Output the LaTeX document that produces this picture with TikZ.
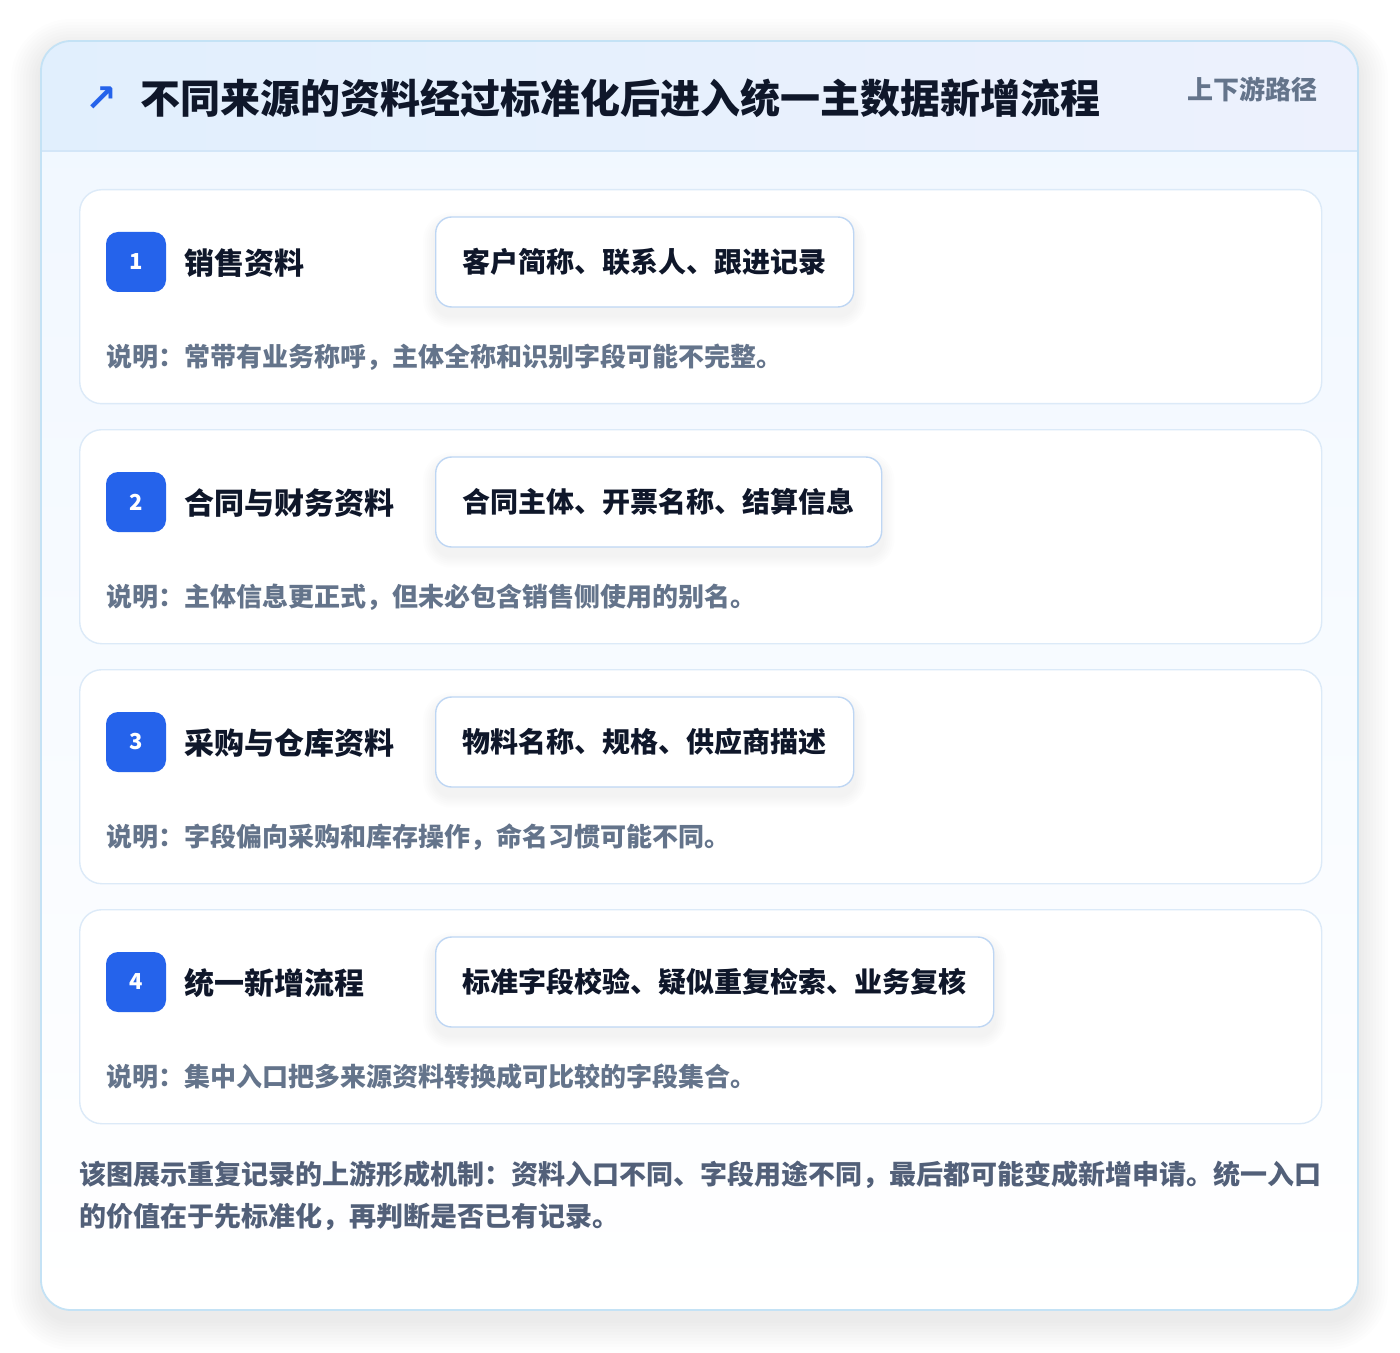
\documentclass[tikz,border=0pt]{standalone}
\usepackage{fontspec}
\setmainfont{Noto Sans CJK SC}
\newfontfamily\symfont{DejaVu Sans}
\usetikzlibrary{calc}
\pgfdeclarelayer{mid}
\pgfdeclarelayer{front}
\pgfsetlayers{main,mid,front}
\definecolor{outline}{HTML}{C4E2F5}
\definecolor{hdleft}{HTML}{E1EFFD}
\definecolor{hdright}{HTML}{EDF1FD}
\definecolor{hdline}{HTML}{D3E6F8}
\definecolor{bodytop}{HTML}{F0F7FF}
\definecolor{cardline}{HTML}{DCEAF8}
\definecolor{fieldline}{HTML}{BED6F3}
\definecolor{badgeblue}{HTML}{2563EB}
\definecolor{ink}{HTML}{0F172A}
\definecolor{slate}{HTML}{64748B}
\definecolor{footgray}{HTML}{526079}
\begin{document}
\begin{tikzpicture}[x=0.5pt,y=-0.5pt,
    card/.style={draw=cardline,fill=white,rounded corners=11pt,line width=0.7pt,minimum width=621pt,minimum height=107pt,anchor=north west,inner sep=0pt},
    badge/.style={fill=badgeblue,rounded corners=6pt,minimum size=30pt,inner sep=0pt,text=white,font=\bfseries\fontsize{11}{11}\selectfont},
    label/.style={anchor=west,inner sep=0pt,text=ink,font=\bfseries\fontsize{15}{15}\selectfont},
    field/.style={draw=fieldline,fill=white,rounded corners=8pt,line width=0.7pt,minimum height=45pt,inner xsep=13.5pt,anchor=west,text=ink,font=\bfseries\fontsize{14}{14}\selectfont},
    note/.style={anchor=west,inner sep=0pt,text=slate,font=\bfseries\fontsize{13}{13}\selectfont}]
    \useasboundingbox[fill=white] (0,0) rectangle (1400,1352);
    % soft shadow of the panel
    \foreach \k in {1,...,10}
        \fill[black,opacity=0.007,rounded corners=15pt+1.5pt*\k] (41-3*\k,49-3*\k) rectangle (1358+3*\k,1320+3*\k);
    % outer panel
    \shade[rounded corners=15pt,top color=bodytop,bottom color=white] (41,41) rectangle (1358,1310);
    \begin{scope}
        \clip[rounded corners=15pt] (41,41) rectangle (1358,1310);
        \shade[left color=hdleft,right color=hdright] (41,41) rectangle (1358,151);
    \end{scope}
    \draw[hdline,line width=0.7pt] (41,151) -- (1358,151);
    \draw[outline,line width=0.9pt,rounded corners=15pt] (41,41) rectangle (1358,1310);
    % header
    \node[anchor=center,text=badgeblue,font=\symfont\bfseries\fontsize{19}{19}\selectfont] (icon) at (101,99) {↗};
    \node[anchor=west,inner sep=0pt,text=ink,font=\bfseries\fontsize{20}{20}\selectfont] (title) at (140,98) {不同来源的资料经过标准化后进入统一主数据新增流程};
    \node[anchor=east,inner sep=0pt,text=slate,font=\bfseries\fontsize{13}{13}\selectfont] (tag) at (1318,89) {上下游路径};
    % source cards
    \foreach \i/\lab/\fld/\txt in {1/销售资料/客户简称、联系人、跟进记录/常带有业务称呼，主体全称和识别字段可能不完整。,
        2/合同与财务资料/合同主体、开票名称、结算信息/主体信息更正式，但未必包含销售侧使用的别名。,
        3/采购与仓库资料/物料名称、规格、供应商描述/字段偏向采购和库存操作，命名习惯可能不同。,
        4/统一新增流程/标准字段校验、疑似重复检索、业务复核/集中入口把多来源资料转换成可比较的字段集合。}{
        \pgfmathsetmacro\top{189+240*(\i-1)}
        \node[card] (card\i) at (79,\top) {};
        \node[badge] (badge\i) at (136,\top+73) {\i};
        \node[label] (label\i) at (184,\top+74) {\lab};
        \begin{pgfonlayer}{front}
            \node[field] (field\i) at (435,\top+73) {\fld};
        \end{pgfonlayer}
        \begin{pgfonlayer}{mid}
            \foreach \k in {1,...,6}
                \fill[black,opacity=0.006,rounded corners=8pt+1pt*\k]
                    ($(field\i.south west)+(-2*\k,8+2*\k)$) rectangle ($(field\i.north east)+(2*\k,8-2*\k)$);
        \end{pgfonlayer}
        \node[note] (note\i) at (106,\top+168) {说明：\txt};
    }
    % summary
    \node[anchor=north west,inner sep=0pt,align=left,text=footgray,font=\bfseries\fontsize{13.5}{21}\selectfont] (summary) at (79,1161)
        {该图展示重复记录的上游形成机制：资料入口不同、字段用途不同，最后都可能变成新增申请。统一入口\\的价值在于先标准化，再判断是否已有记录。};
\end{tikzpicture}
\end{document}
